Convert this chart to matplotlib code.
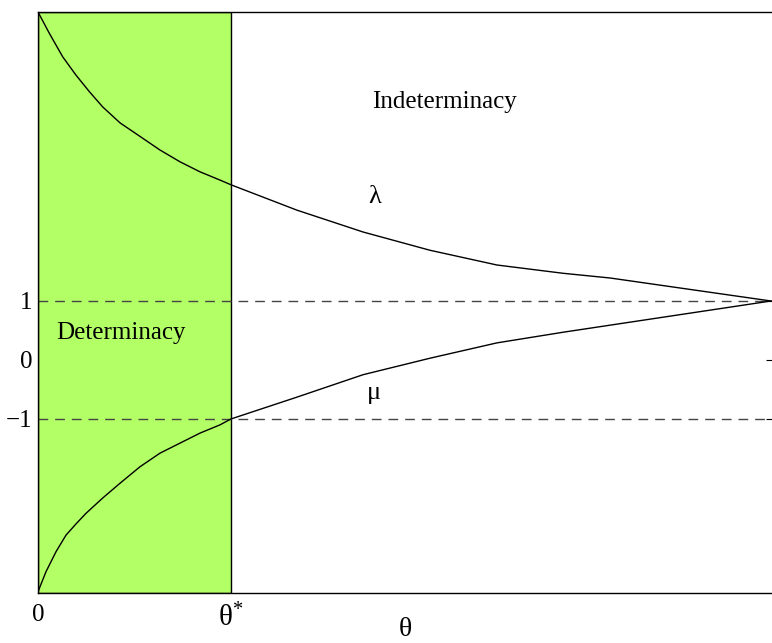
import matplotlib
matplotlib.use("Agg")
import matplotlib.pyplot as plt

plt.rcParams['font.family'] = ['Liberation Serif', 'DejaVu Serif']
plt.rcParams['mathtext.fontset'] = 'custom'
plt.rcParams['mathtext.rm'] = 'Liberation Serif'
plt.rcParams['mathtext.it'] = 'Liberation Serif'

# curve samples (theta scaled to 0..1)
theta_lam = [0.0, 0.0154, 0.0337, 0.0518, 0.070, 0.0883, 0.1119, 0.1392,
             0.1664, 0.1937, 0.2210, 0.2483, 0.2633, 0.3533, 0.4434,
             0.5348, 0.6262, 0.7162, 0.7804, 1.0]
lam = [5.90, 5.54, 5.14, 4.83, 4.55, 4.29, 4.02, 3.79,
       3.56, 3.36, 3.19, 3.05, 2.97, 2.54, 2.17,
       1.86, 1.61, 1.47, 1.39, 1.0]
theta_mu = [0.0, 0.0109, 0.0246, 0.0382, 0.0518, 0.0655, 0.0883, 0.1119,
            0.1392, 0.1664, 0.1937, 0.2210, 0.2483, 0.2633, 0.3533,
            0.4434, 0.5348, 0.6262, 0.7162, 0.7804, 1.0]
mu = [-3.93, -3.59, -3.25, -2.97, -2.78, -2.60, -2.34, -2.09,
      -1.81, -1.58, -1.41, -1.24, -1.10, -1.0, -0.63,
      -0.25, 0.03, 0.29, 0.47, 0.59, 1.0]
theta_star = 0.2633
y_ticks = [1, 0, -1]
y_ticklabels = ['1', '0', '\u22121']

fig = plt.figure(figsize=(7.72, 6.43), dpi=100)
ax = fig.add_axes([0.0492, 0.0778, 0.9508, 0.9036])

# determinacy region
ax.axvspan(0, theta_star, facecolor='#b3ff66', edgecolor='black', lw=1.0, zorder=1)

# reference lines at +1 / -1
for yv in (1, -1):
    ax.axhline(yv, color='#444444', lw=1.0, dashes=(7, 5), zorder=2)

ax.plot(theta_lam, lam, color='black', lw=1.0, zorder=3)
ax.plot(theta_mu, mu, color='black', lw=1.0, zorder=3)

ax.text(0.555, 4.37, 'Indeterminacy', fontsize=18, ha='center', va='center')
ax.text(0.0246, 0.46, 'Determinacy', fontsize=18, ha='left', va='center')
ax.text(0.46, 2.76, '\u03bb', fontsize=19, ha='center', va='center')
ax.text(0.458, -0.56, '\u03bc', fontsize=19, ha='center', va='center')

ax.set_xlim(0, 1.0014)
ax.set_ylim(-3.95, 5.90)

ax.set_yticks(y_ticks)
ax.set_yticklabels(y_ticklabels, fontsize=18)
ax.set_xticks([0, theta_star])
ax.set_xticklabels(['0', '$\\mathrm{\u03b8}^{*}$'], fontsize=18)
ax.get_xticklabels()[1].set_fontsize(21)
ax.tick_params(axis='y', left=False, right=True, direction='in', length=4, pad=4)
ax.tick_params(axis='x', direction='in', length=0, pad=8)

ax.set_xlabel('\u03b8', fontsize=20, va='bottom')
ax.xaxis.set_label_coords(0.5, -0.0843)

for s in ax.spines.values():
    s.set_linewidth(1.0)
ax.spines['right'].set_visible(False)

plt.savefig('out.png', dpi=100)
